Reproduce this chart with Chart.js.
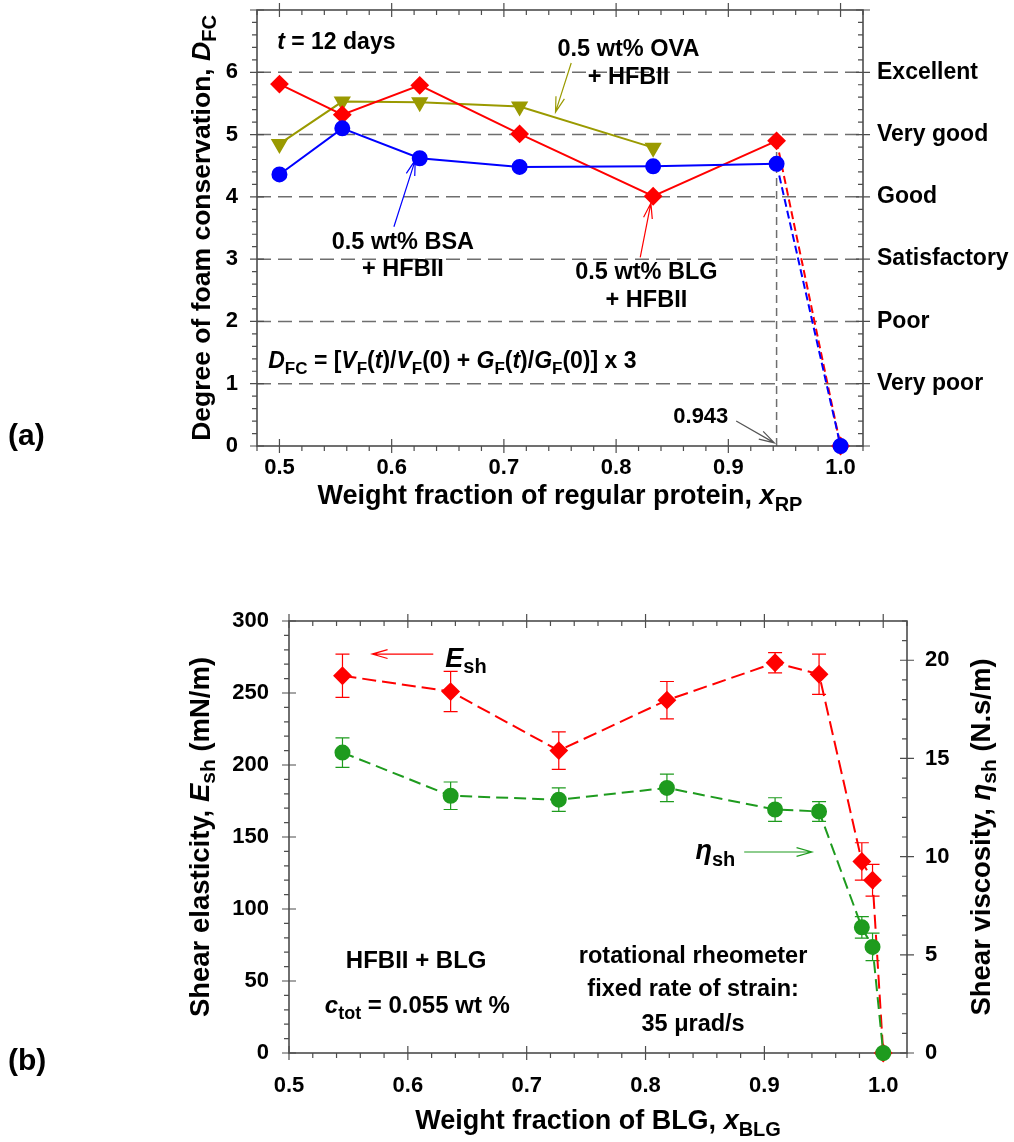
<!DOCTYPE html>
<html>
<head>
<meta charset="utf-8">
<script src="https://cdn.jsdelivr.net/npm/chart.js@4.4.1/dist/chart.umd.min.js"></script>
<style>
  body { margin: 0; background: #fff; width: 1014px; height: 1142px; position: relative; overflow: hidden; }
  .box { position: absolute; left: 0; width: 1014px; }
  #boxA { top: 0; height: 560px; }
  #boxB { top: 560px; height: 582px; }
</style>
</head>
<body>
<div class="box" id="boxA"><canvas id="chartA" width="1014" height="560"></canvas></div>
<div class="box" id="boxB"><canvas id="chartB" width="1014" height="582"></canvas></div>
<script>
// (a) degree of foam conservation after 12 days
const xRP = [0.5, 0.556, 0.625, 0.714, 0.833, 0.943, 1.0]
const dfcBLG = [5.81, 5.32, 5.79, 5.01, 4.01, 4.90, 0]
const dfcBSA = [4.36, 5.10, 4.62, 4.48, 4.49, 4.53, 0]
const xOVA = [0.5, 0.556, 0.625, 0.714, 0.833]
const dfcOVA = [4.85, 5.53, 5.52, 5.45, 4.79]
const ratingLabels = ['', 'Very poor', 'Poor', 'Satisfactory', 'Good', 'Very good', 'Excellent', '']

// (b) shear rheology, HFBII + BLG
const xBLG = [0.545, 0.636, 0.727, 0.818, 0.909, 0.946, 0.982, 0.991, 1.0]
const eSh = [262, 251, 210, 245, 271, 263, 133, 120, 0]
const eShErr = [15, 14, 13, 13, 7, 14, 13, 11, 0]
const etaSh = [15.3, 13.1, 12.9, 13.5, 12.4, 12.3, 6.4, 5.4, 0]
const etaShErr = [0.75, 0.7, 0.6, 0.7, 0.6, 0.5, 0.55, 0.7, 0]

const FONT = '"Liberation Sans", Arial, sans-serif'
Chart.defaults.font.family = FONT
Chart.defaults.font.weight = 'bold'
Chart.defaults.color = '#000'

const RED = '#ff0000', BLUE = '#0000ff', OLIVE = '#9a9a00', GREEN = '#1e9b1e', AXIS = '#4d4d4d'

function pts(xs, ys) { return xs.map((x, i) => ({ x: x, y: ys[i] })) }

// text with italic / subscript parts: [text, flags] flags: 'i' italic, 's' subscript
function richText(ctx, parts, x, y, size, align) {
  const fontOf = p => (p[1].includes('i') ? 'italic ' : '') + 'bold ' + (p[1].includes('s') ? Math.round(size * 0.75) : size) + 'px ' + FONT
  let w = 0
  parts.forEach(p => { ctx.font = fontOf(p); w += ctx.measureText(p[0]).width })
  let cx = align === 'center' ? x - w / 2 : align === 'right' ? x - w : x
  ctx.textAlign = 'left'
  ctx.textBaseline = 'middle'
  ctx.fillStyle = '#000'
  parts.forEach(p => {
    ctx.font = fontOf(p)
    ctx.fillText(p[0], cx, p[1].includes('s') ? y + size * 0.3 : y)
    cx += ctx.measureText(p[0]).width
  })
}

function vertText(ctx, parts, x, y, size) {
  ctx.save()
  ctx.translate(x, y)
  ctx.rotate(-Math.PI / 2)
  richText(ctx, parts, 0, 0, size, 'center')
  ctx.restore()
}

function arrow(ctx, x1, y1, x2, y2, color) {
  const a = Math.atan2(y2 - y1, x2 - x1), L = 16, h = 0.28
  ctx.save()
  ctx.strokeStyle = color
  ctx.lineWidth = 1.2
  ctx.setLineDash([])
  ctx.beginPath()
  ctx.moveTo(x1, y1); ctx.lineTo(x2, y2)
  ctx.moveTo(x2 - L * Math.cos(a - h), y2 - L * Math.sin(a - h))
  ctx.lineTo(x2, y2)
  ctx.lineTo(x2 - L * Math.cos(a + h), y2 - L * Math.sin(a + h))
  ctx.stroke()
  ctx.restore()
}

// box frame with crossing major ticks and small minor ticks
function frameAndTicks(chart, specs) {
  const ctx = chart.ctx, a = chart.chartArea
  ctx.save()
  ctx.strokeStyle = AXIS
  ctx.lineWidth = 1.6
  ctx.setLineDash([])
  ctx.strokeRect(a.left, a.top, a.right - a.left, a.bottom - a.top)
  ctx.lineWidth = 1.2
  specs.forEach(([id, major, minor, edges]) => {
    const sc = chart.scales[id]
    const k0 = Math.ceil(sc.min / minor - 1e-6), k1 = Math.floor(sc.max / minor + 1e-6)
    const ratio = Math.round(major / minor)
    ctx.beginPath()
    for (let k = k0; k <= k1; k++) {
      const p = sc.getPixelForValue(k * minor), big = k % ratio === 0
      edges.forEach(e => {
        if (e === 'bottom' || e === 'top') {
          const y = a[e]
          ctx.moveTo(p, big ? y - 7 : y); ctx.lineTo(p, y + (big ? 7 : 5))
        } else {
          const x = a[e]
          ctx.moveTo(big ? x + 7 : x, p); ctx.lineTo(x - (big ? 7 : 5), p)
        }
      })
    }
    ctx.stroke()
  })
  ctx.restore()
}

const fixSize = (w, h) => s => {
  if (w != null) { s.width = w; s.paddingTop = 0; s.paddingBottom = 0 }
  if (h != null) s.height = h
}
const tickFont = { size: 22, weight: 'bold' }

// ---------- chart (a) ----------
const plotA = {
  id: 'plotA',
  beforeDatasetsDraw(chart) {
    const ctx = chart.ctx, a = chart.chartArea, xs = chart.scales.x, ys = chart.scales.y
    ctx.save()
    ctx.strokeStyle = '#6e6e6e'
    ctx.lineWidth = 1.5
    ctx.setLineDash([14, 7])
    ctx.beginPath()
    ratingLabels.forEach((lab, v) => {
      if (!lab) return
      const p = ys.getPixelForValue(v)
      ctx.moveTo(a.left, p); ctx.lineTo(a.right, p)
    })
    ctx.stroke()
    // drop line at the last mixed composition
    const k = xRP.length - 2
    ctx.setLineDash([8, 5])
    ctx.beginPath()
    ctx.moveTo(xs.getPixelForValue(xRP[k]), ys.getPixelForValue(0))
    ctx.lineTo(xs.getPixelForValue(xRP[k]), ys.getPixelForValue(dfcBLG[k]))
    ctx.stroke()
    ctx.restore()
    frameAndTicks(chart, [['x', 0.1, 0.02, ['bottom', 'top']], ['y', 1, 0.2, ['left', 'right']]])
  },
  afterDraw(chart) {
    const ctx = chart.ctx, a = chart.chartArea, xs = chart.scales.x, ys = chart.scales.y
    const X = v => xs.getPixelForValue(v), Y = v => ys.getPixelForValue(v)
    ctx.save()
    richText(ctx, [['t', 'i'], [' = 12 days', '']], X(0.498), Y(6.48), 23, 'left')
    richText(ctx, [['0.5 wt% OVA', '']], X(0.811), Y(6.36), 23.5, 'center')
    richText(ctx, [['+ HFBII', '']], X(0.811), Y(5.92), 23.5, 'center')
    arrow(ctx, X(0.760), Y(6.15), X(0.746), Y(5.36), OLIVE)
    richText(ctx, [['0.5 wt% BSA', '']], X(0.610), Y(3.27), 23.5, 'center')
    richText(ctx, [['+ HFBII', '']], X(0.610), Y(2.84), 23.5, 'center')
    arrow(ctx, X(0.602), Y(3.52), X(0.621), Y(4.59), BLUE)
    richText(ctx, [['0.5 wt% BLG', '']], X(0.827), Y(2.78), 23.5, 'center')
    richText(ctx, [['+ HFBII', '']], X(0.827), Y(2.34), 23.5, 'center')
    arrow(ctx, X(0.8215), Y(3.03), X(0.831), Y(3.90), RED)
    richText(ctx, [['D', 'i'], ['FC', 's'], [' = [', ''], ['V', 'i'], ['F', 's'], ['(', ''], ['t', 'i'], [')/', ''], ['V', 'i'], ['F', 's'],
      ['(0) + ', ''], ['G', 'i'], ['F', 's'], ['(', ''], ['t', 'i'], [')/', ''], ['G', 'i'], ['F', 's'], ['(0)] x 3', '']], X(0.49), Y(1.35), 23, 'left')
    richText(ctx, [['0.943', '']], X(0.900), Y(0.47), 22, 'right')
    arrow(ctx, X(0.907), Y(0.40), X(0.941), Y(0.05), '#555')
    // axis titles and panel letter
    vertText(ctx, [['Degree of foam conservation, ', ''], ['D', 'i'], ['FC', 's']], 203, (a.top + a.bottom) / 2, 26.5)
    richText(ctx, [['Weight fraction of regular protein, ', ''], ['x', 'i'], ['RP', 's']], (a.left + a.right) / 2, 497, 27, 'center')
    richText(ctx, [['(a)', '']], 8, 437, 30, 'left')
    ctx.restore()
  }
}

new Chart('chartA', {
  type: 'scatter',
  data: {
    datasets: [
      {
        data: pts(xRP, dfcBSA), showLine: true, borderColor: BLUE, backgroundColor: BLUE, borderWidth: 2,
        pointStyle: 'circle', pointRadius: 7, clip: false,
        segment: { borderDash: c => c.p0DataIndex === xRP.length - 2 ? [8, 4] : undefined }
      },
      {
        data: pts(xRP, dfcBLG), showLine: true, borderColor: RED, backgroundColor: RED, borderWidth: 2,
        pointStyle: 'rectRot', pointRadius: 8, clip: false,
        segment: { borderDash: c => c.p0DataIndex === xRP.length - 2 ? [8, 4] : undefined }
      },
      {
        data: pts(xOVA, dfcOVA), showLine: true, borderColor: OLIVE, backgroundColor: OLIVE, borderWidth: 2,
        pointStyle: 'triangle', pointRotation: 180, pointRadius: 8, clip: false
      }
    ]
  },
  options: {
    responsive: false,
    animation: false,
    layout: { padding: { top: 10, left: 0, right: 0, bottom: 0 } },
    plugins: { legend: { display: false }, tooltip: { enabled: false } },
    scales: {
      x: {
        type: 'linear', min: 0.48, max: 1.02,
        grid: { display: false, drawTicks: false }, border: { display: false },
        ticks: { stepSize: 0.1, includeBounds: false, padding: 9, font: tickFont, callback: v => v.toFixed(1) },
        afterFit: fixSize(null, 114)
      },
      y: {
        min: 0, max: 7,
        grid: { display: false, drawTicks: false }, border: { display: false },
        ticks: { stepSize: 1, padding: 19, font: tickFont, callback: v => (v === 7 ? '' : v) },
        afterFit: fixSize(257, null)
      },
      y2: {
        position: 'right', min: 0, max: 7,
        grid: { display: false, drawTicks: false }, border: { display: false },
        ticks: { stepSize: 1, padding: 14, font: { size: 23, weight: 'bold' }, callback: v => ratingLabels[v] },
        afterFit: fixSize(151, null)
      }
    }
  },
  plugins: [plotA]
})

// ---------- chart (b) ----------
const plotB = {
  id: 'plotB',
  beforeDatasetsDraw(chart) {
    frameAndTicks(chart, [['x', 0.1, 0.02, ['bottom', 'top']], ['y', 50, 10, ['left']], ['y2', 5, 1, ['right']]])
    const ctx = chart.ctx, xs = chart.scales.x
    ctx.save()
    ctx.lineWidth = 1.2
    ctx.setLineDash([])
    chart.data.datasets.forEach(ds => {
      const ys = chart.scales[ds.yAxisID]
      ctx.strokeStyle = ds.borderColor
      ctx.beginPath()
      ds.data.forEach((p, i) => {
        const e = ds.errors[i]
        if (!e) return
        const px = xs.getPixelForValue(p.x), top = ys.getPixelForValue(p.y + e), bot = ys.getPixelForValue(p.y - e)
        ctx.moveTo(px, top); ctx.lineTo(px, bot)
        ctx.moveTo(px - 7, top); ctx.lineTo(px + 7, top)
        ctx.moveTo(px - 7, bot); ctx.lineTo(px + 7, bot)
      })
      ctx.stroke()
    })
    ctx.restore()
  },
  afterDraw(chart) {
    const ctx = chart.ctx, a = chart.chartArea, xs = chart.scales.x, ys = chart.scales.y
    const X = v => xs.getPixelForValue(v), Y = v => ys.getPixelForValue(v)
    ctx.save()
    richText(ctx, [['E', 'i'], ['sh', 's']], X(0.6315), Y(273), 27, 'left')
    arrow(ctx, X(0.6214), Y(277), X(0.570), Y(277), RED)
    richText(ctx, [['η', 'i'], ['sh', 's']], X(0.842), Y(139.6), 27, 'left')
    arrow(ctx, X(0.883), Y(139.6), X(0.940), Y(139.6), GREEN)
    richText(ctx, [['HFBII + BLG', '']], X(0.607), Y(63.4), 24, 'center')
    richText(ctx, [['c', 'i'], ['tot', 's'], [' = 0.055 wt %', '']], X(0.608), Y(32.2), 24, 'center')
    richText(ctx, [['rotational rheometer', '']], X(0.840), Y(66.8), 23.5, 'center')
    richText(ctx, [['fixed rate of strain:', '']], X(0.840), Y(43.9), 23.5, 'center')
    richText(ctx, [['35 μrad/s', '']], X(0.840), Y(19.6), 23.5, 'center')
    const cy = (a.top + a.bottom) / 2
    vertText(ctx, [['Shear elasticity, ', ''], ['E', 'i'], ['sh', 's'], [' (mN/m)', '']], 201, cy, 27.5)
    vertText(ctx, [['Shear viscosity, ', ''], ['η', 'i'], ['sh', 's'], [' (N.s/m)', '']], 982, cy, 27.5)
    richText(ctx, [['Weight fraction of BLG, ', ''], ['x', 'i'], ['BLG', 's']], (a.left + a.right) / 2, 562, 27, 'center')
    richText(ctx, [['(b)', '']], 8, 502, 30, 'left')
    ctx.restore()
  }
}

new Chart('chartB', {
  type: 'scatter',
  data: {
    datasets: [
      {
        data: pts(xBLG, etaSh), errors: etaShErr, yAxisID: 'y2', showLine: true,
        borderColor: GREEN, backgroundColor: GREEN, borderWidth: 2, borderDash: [12, 6],
        pointStyle: 'circle', pointRadius: 7, clip: false
      },
      {
        data: pts(xBLG, eSh), errors: eShErr, yAxisID: 'y', showLine: true,
        borderColor: RED, backgroundColor: RED, borderWidth: 2, borderDash: [14, 6],
        pointStyle: 'rectRot', pointRadius: 8, clip: false
      }
    ]
  },
  options: {
    responsive: false,
    animation: false,
    layout: { padding: { top: 61, left: 0, right: 0, bottom: 0 } },
    plugins: { legend: { display: false }, tooltip: { enabled: false } },
    scales: {
      x: {
        type: 'linear', min: 0.5, max: 1.02,
        grid: { display: false, drawTicks: false }, border: { display: false },
        ticks: { stepSize: 0.1, includeBounds: false, padding: 20, font: tickFont, callback: v => v.toFixed(1) },
        afterFit: fixSize(null, 89)
      },
      y: {
        min: 0, max: 300,
        grid: { display: false, drawTicks: false }, border: { display: false },
        ticks: { stepSize: 50, padding: 20, font: tickFont },
        afterFit: fixSize(289, null)
      },
      y2: {
        position: 'right', min: 0, max: 22,
        grid: { display: false, drawTicks: false }, border: { display: false },
        ticks: { stepSize: 5, includeBounds: false, padding: 18, font: tickFont },
        afterFit: fixSize(107, null)
      }
    }
  },
  plugins: [plotB]
})
</script>
</body>
</html>
